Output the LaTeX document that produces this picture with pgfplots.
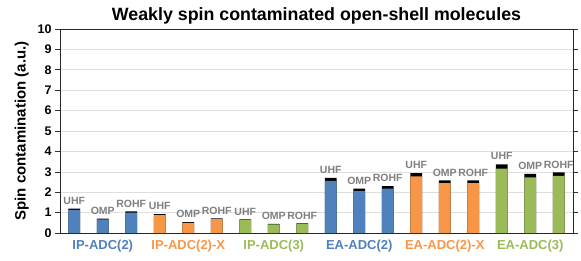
\documentclass[border=0pt]{standalone}
\usepackage{pgfplots}
\pgfplotsset{compat=1.18}
\usepackage{fontspec}
\setmainfont{Liberation Sans}
\definecolor{cblue}{HTML}{4F81BD}
\definecolor{corange}{HTML}{F79646}
\definecolor{cgreen}{HTML}{9BBB59}
\definecolor{lblgray}{HTML}{7F7F7F}
\begin{document}
\begin{tikzpicture}
\begin{axis}[name=ax, at={(0,0)}, anchor=south west,
  scale only axis, width=513pt, height=204pt,
  xmin=-0.5, xmax=17.5, ymin=0, ymax=10,
  ytick={0,1,...,10},
  xtick={1,4,7,10,13,16},
  xticklabels={\textcolor{cblue}{IP-ADC(2)},\textcolor{corange}{IP-ADC(2)-X},\textcolor{cgreen}{IP-ADC(3)},\textcolor{cblue}{EA-ADC(2)},\textcolor{corange}{EA-ADC(2)-X},\textcolor{cgreen}{EA-ADC(3)}},
  xticklabel style={font=\bfseries\fontsize{13}{15}\selectfont, yshift=1pt},
  yticklabel style={font=\bfseries\fontsize{12.5}{14}\selectfont},
  /pgf/number format/assume math mode=true,
  xtick style={draw=none},
  ytick style={draw=black!80, line width=0.6pt},
  tick align=outside, major tick length=5pt,
  ymajorgrids, grid style={draw=black!13, line width=0.6pt},
  axis line style={black!85, line width=0.8pt},
  ylabel={\bfseries Spin contamination (a.u.)},
  ylabel style={font=\fontsize{15}{17}\selectfont, yshift=2pt},
  title={\bfseries Weakly spin contaminated open-shell molecules},
  title style={font=\fontsize{17.8}{20}\selectfont, yshift=-5pt},
  ybar=0pt, bar width=0.41,
  clip=false,
]
% totals (black caps)
\addplot[fill=black, draw=none, bar shift=0pt,
  point meta=explicit symbolic,
  nodes near coords,
  every node near coord/.append style={font=\bfseries\fontsize{10.5}{12}\selectfont, text=lblgray, anchor=south, inner sep=1pt, yshift=3pt}]
  coordinates {
  (0,1.19) [UHF] (1,0.71) [OMP] (2,1.06) [ROHF]
  (3,0.92) [UHF] (4,0.53) [OMP] (5,0.72) [ROHF]
  (6,0.67) [UHF] (7,0.45) [OMP] (8,0.47) [ROHF]
  (9,2.70) [UHF] (10,2.17) [OMP] (11,2.30) [ROHF]
  (12,2.93) [UHF] (13,2.58) [OMP] (14,2.58) [ROHF]
  (15,3.37) [UHF] (16,2.90) [OMP] (17,2.97) [ROHF]
  };
% bases
\addplot[fill=cblue, draw=none, bar shift=0pt] coordinates {(0,1.13) (1,0.67) (2,1.00)};
\addplot[fill=corange, draw=none, bar shift=0pt] coordinates {(3,0.88) (4,0.50) (5,0.68)};
\addplot[fill=cgreen, draw=none, bar shift=0pt] coordinates {(6,0.63) (7,0.42) (8,0.44)};
\addplot[fill=cblue, draw=none, bar shift=0pt] coordinates {(9,2.56) (10,2.07) (11,2.18)};
\addplot[fill=corange, draw=none, bar shift=0pt] coordinates {(12,2.78) (13,2.44) (14,2.44)};
\addplot[fill=cgreen, draw=none, bar shift=0pt] coordinates {(15,3.15) (16,2.73) (17,2.80)};
\end{axis}
\pgfresetboundingbox
\path ([xshift=-60pt,yshift=-27pt]ax.south west) rectangle ([xshift=8pt,yshift=29pt]ax.north east);
\end{tikzpicture}
\end{document}
